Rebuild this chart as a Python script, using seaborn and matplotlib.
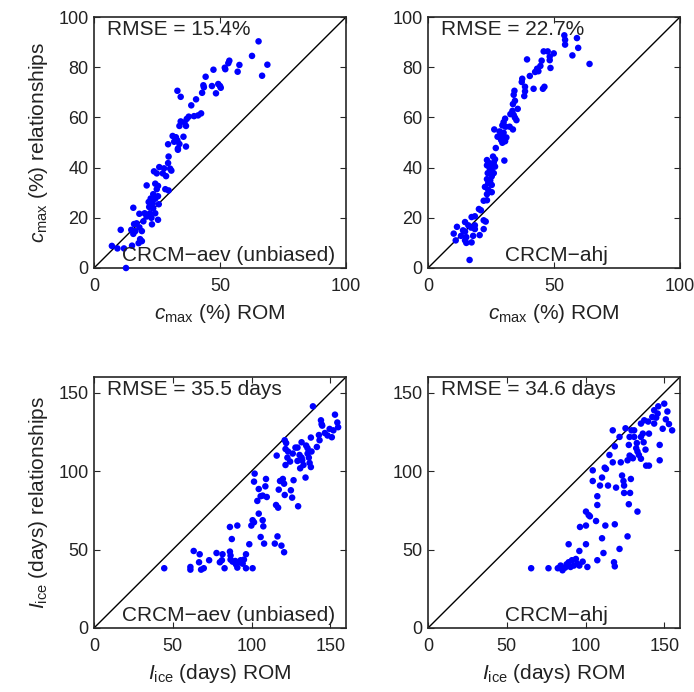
import matplotlib
matplotlib.use("Agg")
import matplotlib.pyplot as plt
import seaborn as sns
import pandas as pd

# ---------------- data ----------------
cmax_rom_aev = [65.3, 62.7, 68.8, 66.7, 53.7, 53.3, 57.7, 57.0, 51.9, 52.1,
                47.4, 44.3, 43.4, 43.6, 46.8, 49.3, 50.0, 50.3, 48.4, 42.9,
                33.1, 34.4, 40.5, 38.6, 42.5, 41.3, 39.7, 37.6, 36.8, 34.4,
                35.9, 36.5, 33.9, 31.2, 32.5, 35.5, 33.1, 31.8, 29.4, 33.9,
                33.3, 36.5, 33.3, 29.6, 29.4, 25.9, 27.8, 30.2, 30.7, 23.8,
                24.9, 27.3, 28.6, 24.3, 25.4, 20.9, 28.3, 24.9, 29.6, 23.5,
                25.4, 22.5, 24.3, 21.7, 23.3, 25.7, 21.9, 23.5, 15.6, 18.0,
                20.1, 22.2, 24.3, 20.9, 22.8, 25.4, 23.0, 19.6, 16.9, 15.9,
                18.0, 14.8, 16.4, 19.0, 10.6, 15.6, 18.3, 19.0, 17.7, 15.1,
                7.1, 9.3, 11.9, 12.7]
cmax_rel_aev = [90.3, 84.5, 81.0, 76.6, 82.6, 81.6, 80.9, 78.2, 79.8, 79.2,
                79.0, 76.2, 72.8, 72.0, 72.5, 73.3, 72.5, 71.8, 69.6, 69.8,
                70.6, 68.2, 67.2, 64.8, 61.6, 60.8, 60.5, 60.3, 59.4, 58.4,
                58.0, 56.6, 56.6, 52.6, 52.1, 52.3, 50.8, 50.3, 49.3, 49.4,
                47.6, 48.4, 47.1, 44.4, 41.8, 40.2, 39.7, 39.6, 38.8, 38.5,
                37.7, 37.7, 36.6, 33.6, 32.7, 32.9, 31.4, 31.4, 30.9, 29.4,
                28.6, 27.7, 27.6, 26.3, 25.7, 25.4, 24.3, 23.8, 24.0, 21.6,
                21.8, 21.8, 21.8, 20.5, 20.0, 19.2, 17.4, 18.6, 17.8, 17.5,
                16.2, 15.2, 14.7, 14.7, 15.2, 13.6, 11.5, 10.7, 9.9, 8.9,
                8.8, 7.8, 7.8, 0.0]

cmax_rom_ahj = [54.1, 54.4, 54.4, 59.1, 59.6, 57.3, 64.1, 45.9, 47.5, 49.9,
                48.3, 48.3, 45.1, 39.3, 44.6, 48.6, 43.3, 43.8, 42.5, 40.4,
                37.4, 37.2, 38.5, 38.5, 38.2, 41.9, 46.2, 45.6, 34.3, 34.0,
                34.5, 33.7, 35.6, 33.5, 32.7, 34.0, 34.5, 35.1, 30.6, 30.0,
                29.5, 30.8, 32.4, 33.7, 26.3, 28.4, 29.0, 30.0, 27.6, 29.8,
                31.1, 29.0, 30.6, 29.5, 26.9, 25.8, 26.6, 23.4, 24.0, 26.1,
                25.0, 23.4, 30.3, 26.6, 24.5, 25.3, 23.7, 26.1, 25.3, 23.4,
                24.7, 23.9, 25.3, 22.6, 23.9, 25.3, 23.4, 22.1, 23.4, 20.2,
                21.0, 18.6, 17.3, 22.1, 22.9, 14.7, 16.0, 18.6, 11.5, 17.1,
                13.9, 14.7, 10.2, 18.6, 22.1, 13.1, 15.2, 17.9, 20.5, 11.0,
                14.7, 15.2, 17.3, 16.5]
cmax_rel_ahj = [92.7, 90.9, 89.0, 91.6, 87.7, 84.7, 81.3, 86.3, 86.3, 85.5,
                84.2, 82.8, 82.6, 83.1, 80.5, 79.7, 79.4, 78.4, 78.1, 76.5,
                75.4, 74.1, 72.2, 70.4, 68.5, 71.4, 72.2, 71.4, 70.6, 69.0,
                66.6, 65.3, 63.4, 62.6, 61.3, 61.0, 59.9, 58.9, 59.5, 58.1,
                56.8, 56.3, 56.3, 55.2, 55.2, 54.4, 53.1, 53.9, 52.3, 52.0,
                52.0, 51.0, 50.5, 49.9, 47.8, 44.4, 43.3, 43.0, 42.0, 42.0,
                40.9, 40.9, 42.8, 40.4, 39.6, 38.8, 37.8, 37.8, 36.5, 35.4,
                34.9, 33.8, 33.1, 32.3, 31.2, 30.2, 29.4, 26.8, 27.0, 23.5,
                23.0, 20.6, 20.3, 19.0, 18.5, 18.3, 17.0, 17.0, 16.4, 16.1,
                15.0, 14.5, 13.7, 15.5, 15.5, 12.8, 12.3, 12.8, 13.1, 11.0,
                11.0, 10.0, 10.2, 3.2]

lice_rom_aev = [44.6, 61.2, 61.2, 63.3, 67.1, 66.7, 68.0, 69.7, 73.1, 77.8,
                81.6, 79.9, 81.2, 82.9, 86.3, 86.7, 86.7, 88.0, 89.7, 90.1,
                91.0, 92.2, 93.1, 94.4, 95.2, 96.5, 96.5, 100.7, 98.6, 86.3,
                91.0, 87.5, 99.9, 100.7, 101.6, 104.6, 107.1, 107.5, 105.8, 108.0,
                114.8, 119.0, 120.7, 116.5, 115.6, 116.9, 105.8, 107.1, 109.7, 103.7,
                104.6, 101.6, 102.0, 109.2, 108.8, 117.3, 119.9, 120.7, 118.1, 121.1,
                125.0, 125.8, 126.7, 129.6, 121.6, 116.0, 122.8, 121.6, 122.0, 123.2,
                124.5, 126.2, 127.9, 129.2, 129.2, 130.5, 131.8, 131.8, 130.9, 132.2,
                133.0, 134.3, 135.6, 135.6, 136.4, 136.9, 137.7, 138.1, 137.7, 134.7,
                141.5, 142.8, 143.2, 144.1, 144.5, 144.9, 146.6, 148.3, 139.0, 121.1,
                149.6, 151.0, 153.0, 154.5, 152.0, 155.0]
lice_rel_aev = [38.1, 38.9, 37.2, 49.1, 47.0, 41.9, 37.2, 38.1, 43.2, 47.8,
                47.0, 41.9, 43.2, 38.1, 48.7, 46.2, 43.6, 42.3, 42.7, 40.6,
                38.5, 41.9, 43.2, 41.0, 43.6, 47.0, 38.1, 38.1, 53.4, 64.4,
                65.3, 56.7, 65.3, 68.7, 67.4, 72.9, 68.7, 64.8, 58.0, 53.8,
                53.8, 52.5, 48.3, 58.4, 78.4, 76.7, 84.0, 84.4, 83.5, 81.0,
                88.6, 93.3, 98.4, 95.0, 90.3, 88.2, 95.0, 92.0, 93.7, 84.8,
                87.8, 83.1, 94.2, 77.6, 103.9, 109.9, 108.6, 114.1, 117.9, 112.5,
                106.1, 111.2, 115.0, 115.0, 106.5, 110.3, 118.4, 108.6, 101.8, 106.9,
                103.9, 95.9, 114.6, 111.2, 108.6, 105.2, 102.6, 112.5, 121.4, 116.3,
                115.4, 123.0, 119.7, 132.4, 129.9, 129.0, 124.3, 122.7, 141.3, 119.7,
                126.9, 121.6, 136.0, 131.0, 126.0, 128.0]

lice_rom_ahj = [65.5, 76.5, 82.4, 84.2, 85.4, 87.1, 88.0, 89.3, 90.5, 91.4,
                92.6, 93.9, 94.8, 96.1, 98.2, 101.2, 107.5, 118.1, 118.6, 96.1,
                89.3, 100.3, 111.4, 110.5, 121.6, 126.7, 96.5, 100.3, 106.7, 112.6,
                118.6, 100.3, 102.0, 102.8, 107.5, 107.5, 109.2, 110.5, 104.6, 104.6,
                112.2, 113.0, 114.3, 119.4, 123.2, 124.1, 124.5, 124.5, 128.8, 128.3,
                127.5, 133.0, 117.3, 115.2, 118.6, 117.3, 121.6, 125.4, 122.4, 126.7,
                128.0, 129.2, 130.1, 127.5, 128.0, 129.2, 130.9, 130.9, 132.6, 132.2,
                133.0, 133.9, 135.2, 136.4, 136.9, 138.1, 135.2, 138.5, 140.3, 135.2,
                137.3, 139.8, 142.4, 143.6, 144.9, 143.6, 146.2, 147.1, 147.1, 145.8,
                140.3, 150.0, 152.0, 151.0, 153.0, 149.0, 155.0]
lice_rel_ahj = [38.1, 38.1, 38.1, 39.8, 36.8, 38.5, 40.6, 41.9, 38.9, 43.2,
                39.8, 44.0, 41.0, 39.8, 42.3, 38.9, 43.2, 41.9, 39.3, 49.1,
                53.4, 53.4, 47.8, 57.2, 50.4, 58.4, 64.4, 65.3, 68.2, 65.3,
                66.1, 74.2, 72.0, 71.2, 78.4, 84.0, 90.8, 95.9, 93.7, 100.5,
                102.2, 101.4, 90.8, 89.5, 97.2, 93.7, 90.8, 86.1, 95.0, 86.1,
                78.9, 74.2, 105.6, 110.3, 115.8, 126.0, 121.8, 127.3, 105.6, 106.9,
                109.9, 108.9, 108.2, 116.7, 121.8, 126.0, 126.0, 121.8, 117.9, 114.6,
                112.5, 110.3, 121.8, 123.9, 118.4, 113.7, 107.9, 103.5, 103.5, 130.3,
                132.4, 131.6, 134.5, 130.3, 134.1, 138.8, 141.3, 116.7, 106.9, 136.7,
                123.9, 143.0, 138.0, 133.0, 130.0, 127.0, 126.0]

rmse_texts = ["RMSE = 15.4%", "RMSE = 22.7%", "RMSE = 35.5 days", "RMSE = 34.6 days"]
model_texts = ["CRCM\u2212aev (unbiased)", "CRCM\u2212ahj",
               "CRCM\u2212aev (unbiased)", "CRCM\u2212ahj"]
top_ticks = [0, 50, 100]
top_yticks = [0, 20, 40, 60, 80, 100]
bot_ticks = [0, 50, 100, 150]

# ---------------- style ----------------
sns.set_theme(style="ticks")
plt.rcParams["font.family"] = ["Liberation Sans", "DejaVu Sans"]
plt.rcParams["mathtext.fontset"] = "custom"
plt.rcParams["mathtext.rm"] = "Liberation Sans"
plt.rcParams["mathtext.it"] = "Liberation Sans:italic"
plt.rcParams["mathtext.bf"] = "Liberation Sans:bold"

W, H = 694, 692
fig = plt.figure(figsize=(W / 100, H / 100), dpi=100)

def frac_box(l, t, r, b):
    return [l / W, 1 - b / H, (r - l) / W, (b - t) / H]

boxes = [frac_box(94, 17, 346, 268), frac_box(428, 17, 680, 268),
         frac_box(94, 377, 346, 628), frac_box(428, 377, 680, 628)]

panels = [
    (cmax_rom_aev, cmax_rel_aev, 100, top_ticks, top_yticks,
     r"$c_{\mathrm{max}}$ (%) ROM", r"$c_{\mathrm{max}}$ (%) relationships", 0.533),
    (cmax_rom_ahj, cmax_rel_ahj, 100, top_ticks, top_yticks,
     r"$c_{\mathrm{max}}$ (%) ROM", None, 0.51),
    (lice_rom_aev, lice_rel_aev, 160, bot_ticks, bot_ticks,
     r"$I_{\mathrm{ice}}$ (days) ROM", r"$I_{\mathrm{ice}}$ (days) relationships", 0.533),
    (lice_rom_ahj, lice_rel_ahj, 160, bot_ticks, bot_ticks,
     r"$I_{\mathrm{ice}}$ (days) ROM", None, 0.51),
]

spine_c = "#262626"
txt_c = "#222222"
for i, (xs, ys, lim, xt, yt, xl, yl, mx) in enumerate(panels):
    ax = fig.add_axes(boxes[i])
    df = pd.DataFrame({"rom": xs, "rel": ys})
    ax.plot([0, lim], [0, lim], color="black", lw=1.0, zorder=1)
    sns.scatterplot(data=df, x="rom", y="rel", ax=ax, color="#0000ff",
                    s=22, edgecolor="none", linewidth=0, zorder=3, clip_on=False)
    ax.set_xlim(0, lim)
    ax.set_ylim(0, lim)
    ax.set_xticks(xt)
    ax.set_yticks(yt)
    ax.tick_params(direction="in", top=True, right=True, length=4, width=0.8,
                   color=spine_c, labelsize=13, labelcolor=txt_c)
    ax.tick_params(axis="x", pad=7)
    ax.tick_params(axis="y", pad=4)
    for sp in ax.spines.values():
        sp.set_color(spine_c)
        sp.set_linewidth(1.2)
        sp.set_visible(True)
    ax.set_xlabel(xl, fontsize=15, color=txt_c, labelpad=5)
    if yl:
        ax.set_ylabel(yl, fontsize=15, color=txt_c, labelpad=6)
    else:
        ax.set_ylabel("")
    ax.text(0.052, 0.95, rmse_texts[i], transform=ax.transAxes, ha="left",
            va="center", fontsize=15, color=txt_c)
    ax.text(mx, 0.05, model_texts[i], transform=ax.transAxes, ha="center",
            va="center", fontsize=15, color=txt_c)

fig.savefig("out.png", dpi=100)
